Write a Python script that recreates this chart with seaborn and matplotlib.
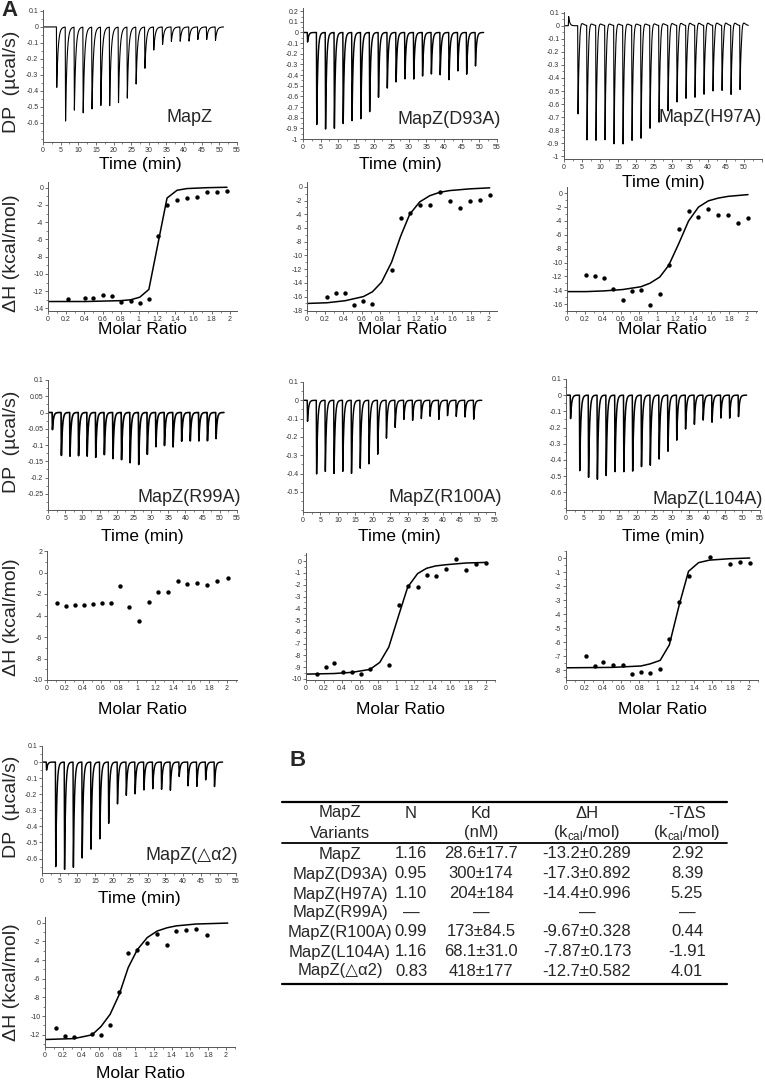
import numpy as np
import pandas as pd
import matplotlib
matplotlib.use("Agg")
import matplotlib.pyplot as plt
import seaborn as sns
from matplotlib.ticker import MultipleLocator, FixedLocator, FuncFormatter
from matplotlib.lines import Line2D

# ---------------------------------------------------------------- data
injection_times = [1.2, 3.8, 6.3, 8.8, 11.3, 13.8, 16.3, 18.8, 21.3, 23.8,
                   26.3, 28.8, 31.3, 33.8, 36.3, 38.8, 41.3, 43.8, 46.3, 48.8]

dp_mapz = [0.0, -0.38, -0.59, -0.52, -0.54, -0.52, -0.50, -0.50, -0.48, -0.45,
           -0.36, -0.26, -0.145, -0.11, -0.09, -0.09, -0.09, -0.08, -0.08, -0.085]
dp_d93a = [-0.09, -0.87, -0.91, -0.90, -0.86, -0.84, -0.83, -0.76, -0.62, -0.53,
           -0.47, -0.44, -0.44, -0.41, -0.39, -0.40, -0.45, -0.37, -0.40, -0.32]
dp_h97a = [0.07, -0.68, -0.88, -0.88, -0.88, -0.92, -0.93, -0.90, -0.88, -0.80,
           -0.75, -0.66, -0.59, -0.56, -0.55, -0.53, -0.51, -0.51, -0.54, -0.50]
dp_r99a = [-0.053, -0.133, -0.135, -0.133, -0.135, -0.14, -0.133, -0.145, -0.148, -0.157,
           -0.162, -0.13, -0.106, -0.102, -0.106, -0.089, -0.089, -0.09, -0.089, -0.082]
dp_r100a = [-0.115, -0.405, -0.39, -0.40, -0.39, -0.405, -0.38, -0.355, -0.30, -0.21,
            -0.15, -0.105, -0.11, -0.10, -0.087, -0.105, -0.085, -0.09, -0.093, -0.105]
dp_l104a = [-0.145, -0.47, -0.51, -0.52, -0.50, -0.48, -0.485, -0.48, -0.45, -0.44,
            -0.40, -0.35, -0.28, -0.21, -0.18, -0.155, -0.17, -0.145, -0.145, -0.135]
dp_da2 = [-0.05, -0.655, -0.67, -0.655, -0.60, -0.55, -0.49, -0.39, -0.265, -0.21,
          -0.20, -0.175, -0.167, -0.17, -0.175, -0.09, -0.15, -0.155, -0.113, -0.155]

mr_mapz = [0.22, 0.41, 0.50, 0.61, 0.70, 0.80, 0.91, 1.01, 1.11, 1.21, 1.31, 1.42, 1.53, 1.64, 1.75, 1.86, 1.97]
dh_mapz = [-12.9, -12.75, -12.75, -12.5, -12.6, -13.25, -13.15, -13.4, -12.95, -5.6, -2.0, -1.4, -1.2, -1.05, -0.5, -0.5, -0.35]
fit_mr_mapz = [0.0, 0.22, 0.41, 0.61, 0.80, 0.91, 1.01, 1.11, 1.21, 1.31, 1.42, 1.53, 1.64, 1.75, 1.97]
fit_dh_mapz = [-13.2, -13.2, -13.2, -13.15, -13.1, -13.0, -12.7, -11.8, -6.5, -1.2, -0.3, -0.1, -0.05, 0.0, 0.05]

mr_d93a = [0.22, 0.32, 0.42, 0.52, 0.62, 0.72, 0.93, 1.03, 1.13, 1.24, 1.35, 1.46, 1.57, 1.68, 1.79, 1.90, 2.01]
dh_d93a = [-16.1, -15.5, -15.5, -17.2, -16.7, -17.1, -12.1, -4.5, -3.8, -2.7, -2.7, -0.8, -2.1, -3.1, -2.0, -1.9, -1.2]
fit_mr_d93a = [0.0, 0.22, 0.42, 0.62, 0.72, 0.82, 0.93, 1.03, 1.13, 1.24, 1.35, 1.46, 1.57, 1.79, 2.01]
fit_dh_d93a = [-17.0, -16.9, -16.6, -16.0, -15.3, -13.9, -11.0, -7.2, -4.0, -2.2, -1.3, -0.8, -0.55, -0.3, -0.15]

mr_h97a = [0.21, 0.31, 0.41, 0.51, 0.62, 0.72, 0.82, 0.92, 1.03, 1.13, 1.24, 1.35, 1.46, 1.57, 1.68, 1.79, 1.90, 2.01]
dh_h97a = [-11.8, -12.0, -12.3, -13.8, -15.4, -14.1, -13.9, -16.2, -14.6, -10.3, -5.1, -2.5, -3.4, -2.3, -3.2, -3.1, -4.3, -3.6]
fit_mr_h97a = [0.0, 0.21, 0.41, 0.62, 0.82, 0.92, 1.03, 1.13, 1.24, 1.35, 1.46, 1.57, 1.68, 1.79, 2.01]
fit_dh_h97a = [-14.2, -14.2, -14.1, -13.9, -13.5, -13.0, -12.1, -10.4, -7.3, -4.0, -2.0, -1.1, -0.7, -0.45, -0.2]

mr_r99a = [0.11, 0.21, 0.31, 0.41, 0.51, 0.61, 0.71, 0.81, 0.91, 1.02, 1.13, 1.23, 1.34, 1.45, 1.56, 1.67, 1.78, 1.89, 2.01]
dh_r99a = [-2.85, -3.1, -3.03, -3.03, -2.9, -2.8, -2.8, -1.25, -3.2, -4.5, -2.75, -1.78, -1.78, -0.8, -1.03, -1.0, -1.12, -0.75, -0.5]

mr_r100a = [0.12, 0.22, 0.31, 0.41, 0.51, 0.61, 0.71, 0.92, 1.03, 1.13, 1.24, 1.34, 1.44, 1.55, 1.67, 1.78, 1.89, 2.00]
dh_r100a = [-9.55, -9.0, -8.65, -9.4, -9.4, -9.6, -9.15, -8.85, -3.7, -2.1, -2.2, -1.2, -1.25, -0.65, 0.15, -0.75, -0.2, -0.15]
fit_mr_r100a = [0.0, 0.31, 0.51, 0.71, 0.82, 0.92, 1.03, 1.13, 1.24, 1.34, 1.44, 1.55, 1.78, 2.00]
fit_dh_r100a = [-9.6, -9.55, -9.45, -9.2, -8.6, -7.3, -4.6, -2.2, -1.05, -0.6, -0.4, -0.3, -0.15, -0.1]

mr_l104a = [0.22, 0.32, 0.41, 0.51, 0.62, 0.72, 0.82, 0.92, 1.03, 1.13, 1.24, 1.34, 1.57, 1.79, 1.90, 2.01]
dh_l104a = [-7.0, -7.73, -7.4, -7.66, -7.66, -8.25, -8.1, -8.2, -7.9, -5.8, -3.15, -1.3, 0.1, -0.4, -0.3, -0.35]
fit_mr_l104a = [0.0, 0.51, 0.82, 0.92, 1.03, 1.13, 1.24, 1.34, 1.45, 1.57, 1.79, 2.01]
fit_dh_l104a = [-7.83, -7.8, -7.7, -7.55, -7.3, -6.2, -3.3, -0.95, -0.33, -0.15, -0.05, 0.0]

mr_da2 = [0.12, 0.22, 0.32, 0.52, 0.62, 0.72, 0.82, 0.92, 1.02, 1.13, 1.24, 1.35, 1.45, 1.56, 1.67, 1.79]
dh_da2 = [-11.3, -12.1, -12.2, -11.9, -12.0, -10.9, -7.45, -3.3, -2.9, -2.2, -1.25, -2.35, -0.9, -0.75, -0.7, -1.35]
fit_mr_da2 = [0.0, 0.32, 0.52, 0.62, 0.72, 0.82, 0.92, 1.02, 1.13, 1.24, 1.35, 1.45, 1.67, 2.02]
fit_dh_da2 = [-12.5, -12.4, -12.0, -11.1, -9.8, -7.7, -4.8, -2.9, -1.6, -0.9, -0.55, -0.35, -0.15, -0.05]

# table (panel B)
tbl_variants = ["MapZ", "MapZ(D93A)", "MapZ(H97A)", "MapZ(R99A)", "MapZ(R100A)", "MapZ(L104A)", "MapZ(\u25b3\u03b12)"]
tbl_n = ["1.16", "0.95", "1.10", "\u2014", "0.99", "1.16", "0.83"]
tbl_kd = ["28.6\u00b117.7", "300\u00b1174", "204\u00b1184", "\u2014", "173\u00b184.5", "68.1\u00b131.0", "418\u00b1177"]
tbl_dh = ["-13.2\u00b10.289", "-17.3\u00b10.892", "-14.4\u00b10.996", "\u2014", "-9.67\u00b10.328", "-7.87\u00b10.173", "-12.7\u00b10.582"]
tbl_tds = ["2.92", "8.39", "5.25", "\u2014", "0.44", "-1.91", "4.01"]

# ---------------------------------------------------------------- style
sns.set_theme(style="ticks")
plt.rcParams["font.family"] = ["Liberation Sans", "DejaVu Sans"]
plt.rcParams["mathtext.fontset"] = "custom"
plt.rcParams["mathtext.rm"] = "Liberation Sans"
plt.rcParams["axes.unicode_minus"] = False

W, H = 765, 1080
fig = plt.figure(figsize=(W / 100, H / 100), dpi=100)
fig.patch.set_facecolor("white")


def px_axes(l, t, r, b):
    return fig.add_axes([l / W, 1 - b / H, (r - l) / W, (b - t) / H])


def ftext(x, y, s, **kw):
    kw.setdefault("ha", "center")
    kw.setdefault("va", "center")
    fig.text(x / W, 1 - y / H, s, **kw)


fmt = FuncFormatter(lambda v, p: ("%g" % round(v, 4)) if abs(v) > 1e-9 else "0")


def style_axes(ax, xlim, ylim, xmajor, xminor, yticks, yminor, xlabel_max=None):
    ax.set_xlim(*xlim)
    ax.set_ylim(*ylim)
    xt = np.round(np.arange(0, xlim[1] + 1e-9, xmajor), 4)
    ax.xaxis.set_major_locator(FixedLocator(xt))
    if xlabel_max is not None:
        ax.xaxis.set_major_formatter(FuncFormatter(
            lambda v, p: ("%g" % v) if v <= xlabel_max + 1e-9 else ""))
    else:
        ax.xaxis.set_major_formatter(fmt)
    ax.xaxis.set_minor_locator(MultipleLocator(xminor))
    ax.yaxis.set_major_locator(FixedLocator(yticks))
    ax.yaxis.set_major_formatter(fmt)
    ax.yaxis.set_minor_locator(MultipleLocator(yminor))
    sns.despine(ax=ax)
    for sp in ("left", "bottom"):
        ax.spines[sp].set_color("#555555")
        ax.spines[sp].set_linewidth(0.7)
    ax.tick_params(which="major", length=2.5, width=0.6, color="#555555",
                   labelsize=5.0, labelcolor="#333333", pad=0.8)
    ax.tick_params(which="minor", length=1.5, width=0.5, color="#555555")
    ax.set_xlabel("")
    ax.set_ylabel("")
    ax.set_facecolor("none")


def dp_trace(peaks, tau, bump=0.0):
    t = np.linspace(0, 51.2, 5000)
    y = np.zeros_like(t)
    rise = 0.1
    for ti, pk in zip(injection_times, peaks):
        dt = t - ti
        shape = np.where(dt < 0, 0.0, np.where(dt < rise, dt / rise, np.exp(-(dt - rise) / tau)))
        y += pk * shape
        if bump and pk < 0:
            db = dt - 0.5
            y += bump * np.where(db > 0, (db / 0.35) * np.exp(1 - db / 0.35), 0.0)
    return pd.DataFrame({"time": t, "dp": y})


def draw_dp(box, peaks, ylim, yticks, yminor, lw, tau=0.3, bump=0.0, xlabel_max=None):
    ax = px_axes(*box)
    df = dp_trace(peaks, tau, bump)
    sns.lineplot(data=df, x="time", y="dp", ax=ax, color="black", lw=lw,
                 estimator=None, sort=False)
    style_axes(ax, (0, 55), ylim, 5, 2.5, yticks, yminor, xlabel_max)
    return ax


def draw_dh(box, mr, dh, ylim, yticks, yminor, xmax, fit_mr=None, fit_dh=None):
    ax = px_axes(*box)
    if fit_mr is not None:
        sns.lineplot(x=fit_mr, y=fit_dh, ax=ax, color="black", lw=1.1,
                     estimator=None, sort=False)
    sns.scatterplot(x=mr, y=dh, ax=ax, color="black", s=10, linewidth=0)
    style_axes(ax, (0, xmax), ylim, 0.2, 0.1, yticks, yminor)
    return ax


def ticks(a, b, step):
    return list(np.round(np.arange(a, b - step / 2, -step), 4))


# ---------------------------------------------------------------- DP panels
draw_dp((43, 10, 237, 142), dp_mapz, (-0.72, 0.106), ticks(0.1, -0.6, 0.1), 0.05, 0.8, tau=0.4)
draw_dp((303, 8, 497, 139), dp_d93a, (-1.0, 0.23), ticks(0.2, -1.0, 0.1), 0.05, 1.05)
draw_dp((564, 12, 762, 159), dp_h97a, (-1.02, 0.105), ticks(0.1, -1.0, 0.1), 0.05, 0.8,
        bump=0.045, xlabel_max=50)
draw_dp((48, 380, 237, 510), dp_r99a, (-0.3, 0.1), ticks(0.1, -0.25, 0.05), 0.025, 1.2)
draw_dp((303, 382, 495, 512), dp_r100a, (-0.61, 0.1), ticks(0.1, -0.5, 0.1), 0.05, 1.05)
draw_dp((566, 379, 760, 510), dp_l104a, (-0.71, 0.1), ticks(0.1, -0.6, 0.1), 0.05, 1.1)
draw_dp((42, 746, 236, 873), dp_da2, (-0.69, 0.1), ticks(0.1, -0.6, 0.1), 0.05, 1.05)

# ---------------------------------------------------------------- ΔH panels
draw_dh((48, 182, 237, 311), mr_mapz, dh_mapz, (-14.3, 0.66), ticks(0, -14, 2), 1, 2.08,
        fit_mr_mapz, fit_dh_mapz)
draw_dh((307, 182, 497, 311), mr_d93a, dh_d93a, (-18.1, 0.7), ticks(0, -18, 2), 1, 2.09,
        fit_mr_d93a, fit_dh_d93a)
draw_dh((567, 187, 757, 311), mr_h97a, dh_h97a, (-17.0, 0.9), ticks(0, -16, 2), 1, 2.11,
        fit_mr_h97a, fit_dh_h97a)
draw_dh((47, 551, 237, 680), mr_r99a, dh_r99a, (-10, 2), ticks(2, -10, 2), 1, 2.11)
draw_dh((306, 553, 495, 680), mr_r100a, dh_r100a, (-10.1, 0.7), ticks(0, -10, 1), 0.5, 2.1,
        fit_mr_r100a, fit_dh_r100a)
draw_dh((566, 551, 758, 680), mr_l104a, dh_l104a, (-8.7, 0.5), ticks(0, -8, 1), 0.5, 2.1,
        fit_mr_l104a, fit_dh_l104a)
draw_dh((45, 917, 235, 1047), mr_da2, dh_da2, (-13.3, 0.6), ticks(0, -12, 2), 1, 2.1,
        fit_mr_da2, fit_dh_da2)

# ---------------------------------------------------------------- labels
lab = dict(fontsize=12.5, color="black")
for x, y in [(140, 165), (400, 165), (663, 182), (142, 537), (399, 537), (663, 537), (139, 899)]:
    ftext(x, y, "Time (min)", **lab)
for x in [143, 402, 662]:
    ftext(x, 322, "Molar Ratio", va="top", **lab)
for x, y in [(142, 709), (400, 709), (662, 709), (140, 1073)]:
    ftext(x, y, "Molar Ratio", **lab)
for y in [82, 442, 807]:
    ftext(12, y, "DP  (\u00b5cal/s)", fontsize=14, rotation=90)
for y in [253, 617, 982]:
    ftext(12, y, "\u0394H (kcal/mol)", fontsize=14, rotation=90)

name_kw = dict(fontsize=13)
ftext(190, 118, "MapZ", **name_kw)
ftext(449, 120, "MapZ(D93A)", **name_kw)
ftext(710, 118, "MapZ(H97A)", **name_kw)
ftext(189, 497, "MapZ(R99A)", **name_kw)
ftext(445, 498, "MapZ(R100A)", **name_kw)
ftext(708, 499, "MapZ(L104A)", **name_kw)
ftext(192, 855, "MapZ(\u25b3\u03b12)", **name_kw)

ftext(10, 11, "A", fontsize=16, fontweight="bold")
ftext(298, 760, "B", fontsize=16, fontweight="bold")

# ---------------------------------------------------------------- table B
for y, lw in [(802, 1.6), (843, 1.3), (984, 1.6)]:
    fig.add_artist(Line2D([282 / W, 727 / W], [1 - y / H, 1 - y / H],
                          transform=fig.transFigure, color="black", lw=lw))

col_x = [340, 411, 481, 587, 687]
tk = dict(fontsize=12)
ftext(col_x[0], 813, "MapZ", **tk)
ftext(col_x[0], 833, "Variants", **tk)
ftext(col_x[1], 813, "N", **tk)
ftext(col_x[2], 813, "Kd", **tk)
ftext(col_x[2], 833, "(nM)", **tk)
ftext(col_x[3], 813, "\u0394H", **tk)
ftext(col_x[3], 833, r"(k$_{\mathrm{cal}}$/mol)", **tk)
ftext(col_x[4], 813, "-T\u0394S", **tk)
ftext(col_x[4], 833, r"(k$_{\mathrm{cal}}$/mol)", **tk)

row_y = [854, 874, 894, 913, 932, 952, 971]
for i, y in enumerate(row_y):
    for x, col in zip(col_x, [tbl_variants, tbl_n, tbl_kd, tbl_dh, tbl_tds]):
        ftext(x, y, col[i], **tk)

fig.savefig("out.png", dpi=100, facecolor="white")
